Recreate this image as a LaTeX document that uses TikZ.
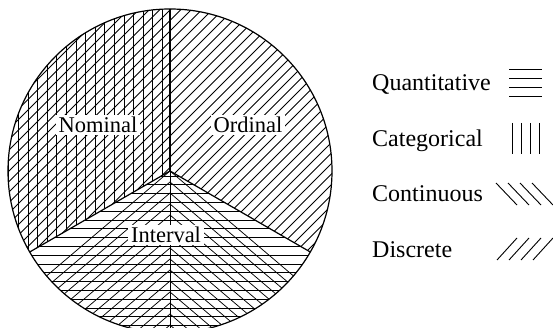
\documentclass[tikz,border=0pt]{standalone}
\usepackage{fontspec}
\setmainfont{Liberation Serif}
\usetikzlibrary{calc}
\tikzset{
  hatch/.style={line width=0.75pt},
  outline/.style={line width=1.2pt},
  lbl/.style={fill=white,inner xsep=3pt,inner ysep=2.5pt,font=\fontsize{22.5}{26}\selectfont},
  legtxt/.style={anchor=base west,inner sep=0pt,font=\fontsize{24}{28}\selectfont},
  legsym/.style={line width=0.9pt}
}
\begin{document}
\begin{tikzpicture}[x=1pt,y=1pt]
\useasboundingbox (0,0) rectangle (553,328);
\def\R{162}
\coordinate (C) at (170,157);
\coordinate (T) at ($(C)+(90:\R)$);
\coordinate (L) at ($(C)+(210:\R)$);
\coordinate (Rt) at ($(C)+(-30:\R)$);
% Nominal: vertical + /
\begin{scope}
\clip (C) -- (T) arc[start angle=90,end angle=210,radius=\R] -- cycle;
\foreach \k in {1,...,19} \draw[hatch] (170-9.6*\k+2,0) -- ++(0,340);
\foreach \c in {-400,-389.5,...,560} \draw[hatch] (\c,0) -- ++(400,400);
\end{scope}
% Ordinal: /
\begin{scope}
\clip (C) -- (Rt) arc[start angle=-30,end angle=90,radius=\R] -- cycle;
\foreach \c in {-400,-389.5,...,560} \draw[hatch] (\c,0) -- ++(400,400);
\end{scope}
% Interval: horizontal + chevrons
\begin{scope}
\clip (C) -- (L) arc[start angle=210,end angle=330,radius=\R] -- cycle;
\foreach \k in {0,...,20} \draw[hatch] (0,152-8.8*\k) -- ++(553,0);
\foreach \k in {0,...,40} \draw[hatch] (-230,157-11*\k-340) -- (170,157-11*\k) -- (570,157-11*\k-340);
\draw[hatch] (C) -- ++(0,-200);
\end{scope}
% outline and dividers
\draw[outline] (C) circle[radius=\R];
\draw[outline] (C) -- (T);
\draw[outline] (C) -- (L);
\draw[outline] (C) -- (Rt);
% labels
\node[lbl] (nom) at (98,203) {Nominal};
\node[lbl] (ord) at (248,203) {Ordinal};
\node[lbl] (int) at (166,93) {Interval};
% legend
\node[legtxt] (q) at (372,237) {Quantitative};
\node[legtxt] (ca) at (372,181) {Categorical};
\node[legtxt] (co) at (372,126) {Continuous};
\node[legtxt] (di) at (372,70) {Discrete};
\foreach \y in {259,250,241,232} \draw[legsym] (509,\y) -- (542,\y);
\foreach \x in {512,521,530,539} \draw[legsym] (\x,205) -- (\x,174);
\foreach \x in {496,508,520,532} \draw[legsym] (\x,145) -- ++(21,-22);
\foreach \x in {497,509,521,533} \draw[legsym] (\x,68) -- ++(20,22);
\end{tikzpicture}
\end{document}
